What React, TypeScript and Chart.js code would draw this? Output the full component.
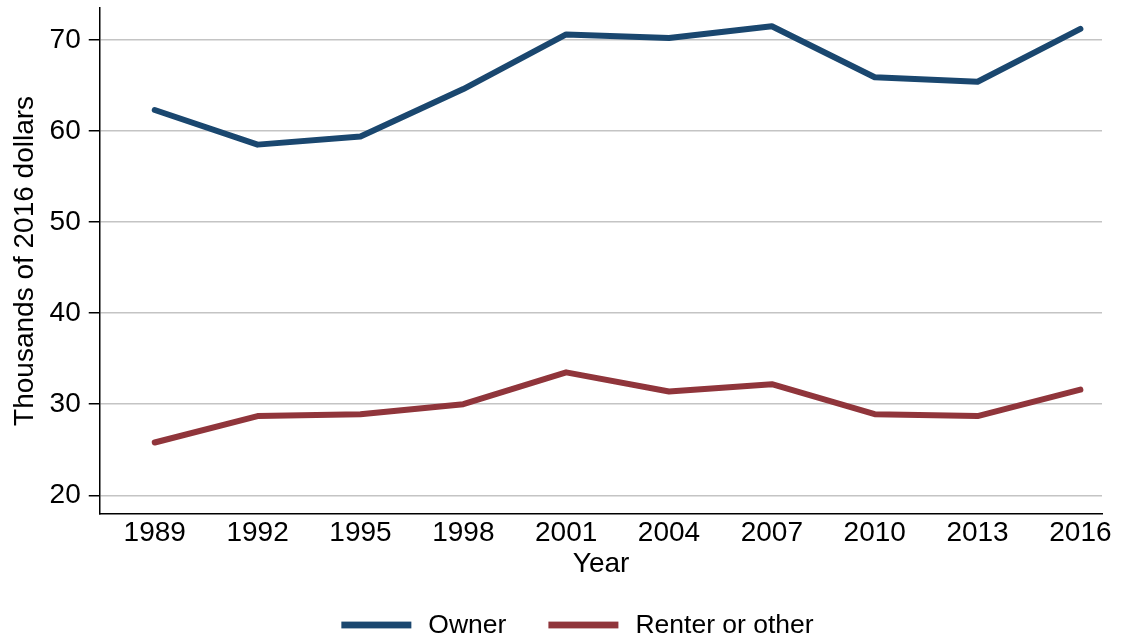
import React, { useEffect, useRef } from "react";
import { Chart, registerables } from "chart.js";

Chart.register(...registerables);

const years = [1989, 1992, 1995, 1998, 2001, 2004, 2007, 2010, 2013, 2016];
const owner = [62.3, 58.5, 59.4, 64.6, 70.6, 70.2, 71.5, 65.9, 65.4, 71.2];
const renter = [25.8, 28.7, 28.9, 30.0, 33.5, 31.4, 32.2, 28.9, 28.7, 31.6];
const yTicks = [20, 30, 40, 50, 60, 70];
const seriesNames = ["Owner", "Renter or other"];
const seriesColors = ["#1a476f", "#90353b"];

const FONT = "'Liberation Sans', Arial, Helvetica, sans-serif";
const FS = 28;
const LFS = 26.5;

const legendPlugin = {
  id: "customLegend",
  afterDraw(chart: any) {
    const ctx = chart.ctx;
    ctx.save();
    ctx.font = `${LFS}px ${FONT}`;
    const sample = 70;
    const gapText = 17;
    const gapItem = 42;
    const widths = seriesNames.map((n) => ctx.measureText(n).width);
    const total = widths.reduce((a, w) => a + sample + gapText + w, 0) + gapItem * (seriesNames.length - 1);
    let x = chart.width / 2 + 17 - total / 2;
    const y = chart.height - 14;
    seriesNames.forEach((n, i) => {
      ctx.fillStyle = seriesColors[i];
      ctx.fillRect(x, y - 3.4, sample, 6.8);
      x += sample + gapText;
      ctx.fillStyle = "#000";
      ctx.textBaseline = "middle";
      ctx.textAlign = "left";
      ctx.fillText(n, x, y + 1);
      x += widths[i] + gapItem;
    });
    ctx.restore();
  },
};

export default function App() {
  const ref = useRef<HTMLCanvasElement | null>(null);
  useEffect(() => {
    document.body.style.margin = "0";
    const ctx = ref.current!.getContext("2d")!;
    const mk = (i: number, vals: number[]) => ({
      label: seriesNames[i],
      data: years.map((x, k) => ({ x, y: vals[k] })),
      borderColor: seriesColors[i],
      backgroundColor: seriesColors[i],
      borderWidth: 6,
      borderCapStyle: "round" as const,
      borderJoinStyle: "round" as const,
      pointRadius: 0,
      tension: 0,
    });
    const chart = new Chart(ctx, {
      type: "line",
      data: { datasets: [mk(0, owner), mk(1, renter)] },
      options: {
        responsive: false,
        animation: false,
        maintainAspectRatio: false,
        layout: { padding: { top: 8, right: 19, left: 8.5, bottom: 44 } },
        font: { family: FONT, size: FS },
        plugins: {
          tooltip: { enabled: false },
          legend: { display: false },
        },
        scales: {
          x: {
            type: "linear",
            min: 1987.41,
            max: 2016.63,
            afterBuildTicks: (axis: any) => {
              axis.ticks = years.map((v) => ({ value: v }));
            },
            grid: { display: false, drawTicks: false },
            border: { display: true, color: "#000", width: 1.5 },
            ticks: {
              color: "#000",
              font: { family: FONT, size: FS },
              padding: 3,
              maxRotation: 0,
              autoSkip: false,
              callback: (v: any) => String(v),
            },
            title: {
              display: true,
              text: "Year",
              color: "#000",
              font: { family: FONT, size: FS },
              padding: { top: -6, bottom: 14 },
            },
          },
          y: {
            type: "linear",
            min: 17.97,
            max: 73.5,
            afterBuildTicks: (axis: any) => {
              axis.ticks = yTicks.map((v) => ({ value: v }));
            },
            afterFit: (scale: any) => {
              scale.paddingTop = 0;
              scale.paddingBottom = 0;
            },
            grid: {
              color: "#c4c4c4",
              lineWidth: 1.5,
              tickColor: "#000",
              tickLength: 11.5,
              drawTicks: true,
            },
            border: { display: true, color: "#000", width: 1.5 },
            ticks: {
              color: "#000",
              font: { family: FONT, size: FS },
              padding: 8,
              callback: (v: any) => String(v),
            },
            title: {
              display: true,
              text: "Thousands of 2016 dollars",
              color: "#000",
              font: { family: FONT, size: FS },
              padding: { top: 0, bottom: -0.5 },
            },
          },
        },
      },
      plugins: [legendPlugin],
    });
    return () => chart.destroy();
  }, []);
  return (
    <div style={{ position: "absolute", left: 0, top: 0, width: 1121, height: 639, background: "#fff" }}>
      <canvas ref={ref} width={1121} height={639} style={{ width: 1121, height: 639, display: "block" }} />
    </div>
  );
}
